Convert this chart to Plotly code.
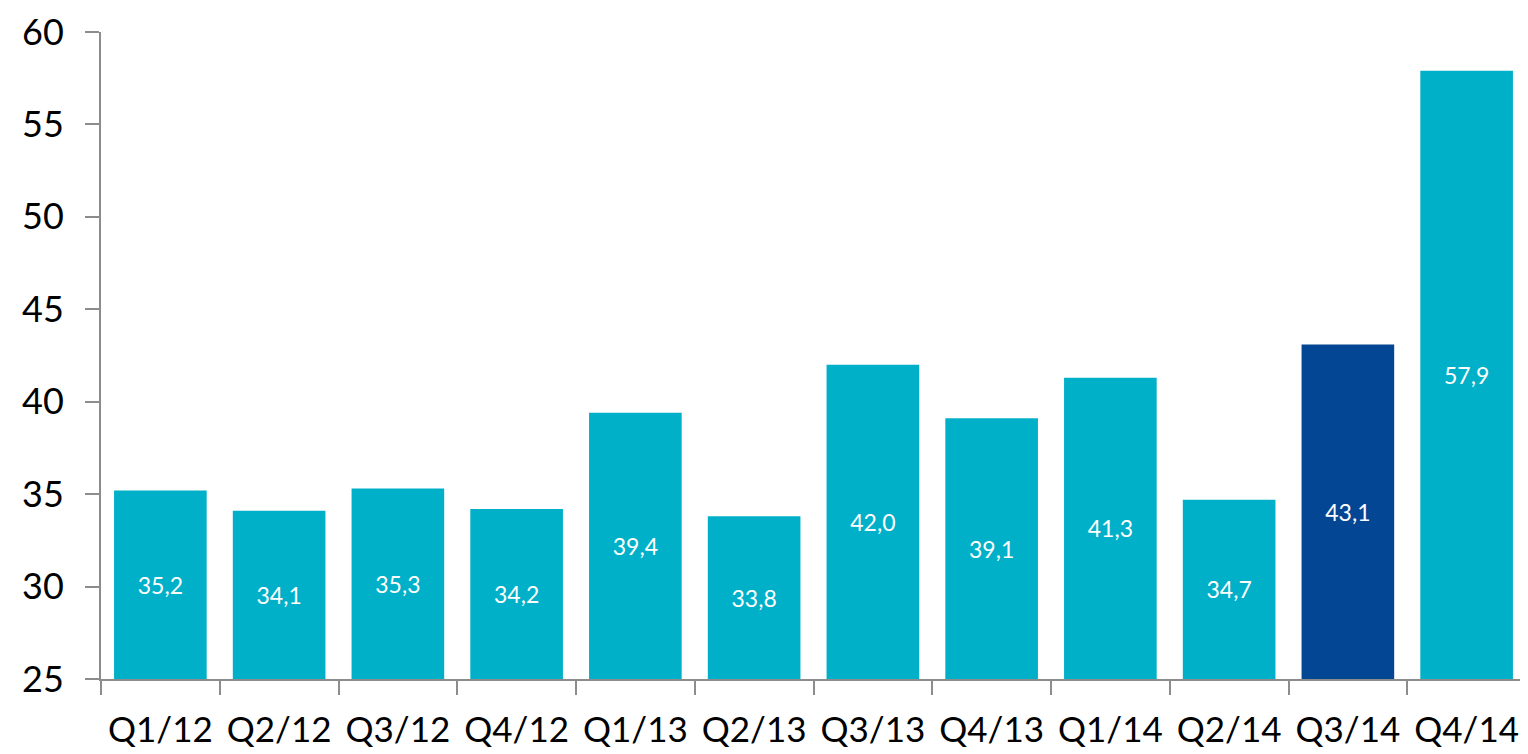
import plotly.graph_objects as go

quarters = ["Q1/12", "Q2/12", "Q3/12", "Q4/12", "Q1/13", "Q2/13",
            "Q3/13", "Q4/13", "Q1/14", "Q2/14", "Q3/14", "Q4/14"]
values = [35.2, 34.1, 35.3, 34.2, 39.4, 33.8, 42.0, 39.1, 41.3, 34.7, 43.1, 57.9]
highlight = "Q3/14"
axis_min = 25

base_color = "#00B0C8"
dark_color = "#034694"
colors = [dark_color if q == highlight else base_color for q in quarters]
labels = [f"{v:.1f}".replace(".", ",") for v in values]

# bars start at the axis minimum so the labels sit mid-bar like the original
fig = go.Figure(go.Bar(
    x=quarters, y=[v - axis_min for v in values], base=axis_min,
    marker=dict(color=colors, line=dict(width=0)),
    text=labels, textposition="inside", insidetextanchor="middle",
    textfont=dict(color="white", size=23, family="Lato"),
    constraintext="none",
))

# page body has an 8px margin, so the figure is sized to end at the window edge
fig.update_layout(
    width=1520, height=746,
    margin=dict(l=93, r=2, t=24, b=75),
    plot_bgcolor="white", paper_bgcolor="white",
    bargap=0.22, showlegend=False,
    font=dict(family="Lato", color="black"),
    uniformtext=dict(minsize=23, mode="show"),
)
fig.update_yaxes(
    range=[25, 60], dtick=5, showgrid=False, zeroline=False,
    showline=True, linecolor="#8c8c8c", linewidth=2,
    ticks="outside", ticklen=14, tickcolor="#8c8c8c", tickwidth=2,
    tickfont=dict(size=36), ticklabelstandoff=14,
)
fig.update_xaxes(
    showgrid=False, showline=True, linecolor="#8c8c8c", linewidth=2,
    ticks="outside", tickson="boundaries", ticklen=14,
    tickcolor="#8c8c8c", tickwidth=2,
    tickfont=dict(size=35), ticklabelstandoff=19, automargin=False,
)

fig.write_html("out.html")
